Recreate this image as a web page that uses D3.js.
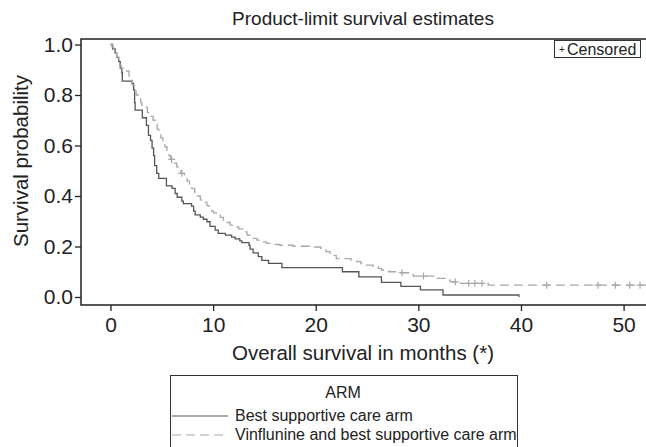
<!DOCTYPE html>
<html>
<head>
<meta charset="utf-8">
<script src="https://cdn.jsdelivr.net/npm/d3@7"></script>
<style>
  body { margin: 0; background: #fff; }
  text { font-family: "Liberation Sans", Arial, sans-serif; fill: #222; }
</style>
</head>
<body>
<script>
// Best supportive care arm: [month, survival after event]
const bscEvents = [
  [0.2, 0.983], [0.45, 0.966], [0.6, 0.949], [0.8, 0.932], [0.95, 0.906], [1.1, 0.889],
  [1.15, 0.855], [2.1, 0.846], [2.25, 0.82], [2.35, 0.77], [2.4, 0.74], [3.1, 0.71],
  [3.5, 0.68], [3.7, 0.64], [3.9, 0.62], [4.05, 0.59], [4.2, 0.56], [4.3, 0.52],
  [4.5, 0.49], [4.7, 0.47], [5.45, 0.44], [6.0, 0.43], [6.3, 0.41], [6.5, 0.395],
  [6.95, 0.38], [7.1, 0.37], [7.9, 0.36], [8.1, 0.34], [8.25, 0.325], [8.75, 0.316],
  [9.05, 0.308], [9.4, 0.298], [9.7, 0.28], [10.2, 0.265], [10.5, 0.252], [11.2, 0.245],
  [11.8, 0.237], [12.15, 0.23], [12.6, 0.222], [12.8, 0.215], [13.5, 0.205], [13.6, 0.19],
  [13.9, 0.175], [14.4, 0.16], [14.75, 0.145], [15.4, 0.133], [16.7, 0.116], [22.6, 0.1],
  [24.2, 0.08], [26.4, 0.058], [28.3, 0.042], [30.2, 0.028], [32.4, 0.008], [39.8, 0]
];

// Vinflunine and best supportive care arm
const vflEvents = [
  [0.15, 0.99], [0.3, 0.98], [0.45, 0.965], [0.6, 0.95], [0.75, 0.93], [0.9, 0.915],
  [1.05, 0.905], [1.4, 0.895], [1.8, 0.875], [1.9, 0.858], [2.1, 0.84], [2.3, 0.815],
  [2.5, 0.8], [2.8, 0.79], [2.95, 0.77], [3.05, 0.752], [3.6, 0.73], [3.9, 0.715],
  [4.15, 0.7], [4.35, 0.685], [4.55, 0.665], [4.7, 0.648], [4.9, 0.63], [5.1, 0.61],
  [5.3, 0.595], [5.5, 0.575], [5.7, 0.56], [5.85, 0.545], [6.2, 0.53], [6.45, 0.515],
  [6.7, 0.5], [6.85, 0.49], [7.2, 0.475], [7.45, 0.46], [7.7, 0.445], [7.9, 0.43],
  [8.2, 0.415], [8.45, 0.4], [8.75, 0.385], [9.05, 0.375], [9.4, 0.362], [9.6, 0.35],
  [9.85, 0.34], [10.05, 0.333], [10.3, 0.325], [10.7, 0.315], [11.0, 0.305], [11.35, 0.295],
  [11.65, 0.285], [12.1, 0.278], [12.5, 0.27], [12.95, 0.258], [13.3, 0.245], [13.6, 0.232],
  [14.25, 0.225], [14.6, 0.218], [15.2, 0.212], [15.6, 0.208], [16.5, 0.205], [17.8, 0.201],
  [19.4, 0.198], [20.5, 0.193], [21.0, 0.18], [21.4, 0.172], [21.7, 0.165], [22.0, 0.152],
  [23.4, 0.147], [24.0, 0.14], [24.4, 0.132], [24.7, 0.126], [25.6, 0.12], [26.1, 0.113],
  [26.4, 0.107], [27.1, 0.1], [28.0, 0.096], [29.5, 0.083], [31.5, 0.074], [32.8, 0.067],
  [33.1, 0.06], [34.1, 0.054], [36.8, 0.047]
];
const vflLastTime = 52.5;
const vflCensored = [5.96, 6.94, 28.4, 30.5, 33.6, 34.9, 35.5, 36.2, 42.5, 47.5, 49.2, 50.6, 51.6];

const xTicks = [0, 10, 20, 30, 40, 50];
const yTicks = [0, 0.2, 0.4, 0.6, 0.8, 1.0];
const armNames = ["Best supportive care arm", "Vinflunine and best supportive care arm"];

const width = 646, height = 447;
const frame = {left: 81, top: 39, bottom: 305};

const x = d3.scaleLinear().domain([0, 50]).range([110.5, 623.6]);
const y = d3.scaleLinear().domain([0, 1]).range([297, 44.5]);

const svg = d3.select("body").append("svg")
  .attr("width", width)
  .attr("height", height);

svg.append("defs").append("clipPath")
  .attr("id", "plot")
  .append("rect")
  .attr("x", frame.left)
  .attr("y", frame.top)
  .attr("width", width - frame.left)
  .attr("height", frame.bottom - frame.top);

// frame
svg.append("path")
  .attr("d", `M${width + 5},${frame.top}H${frame.left}V${frame.bottom}H${width + 5}`)
  .attr("fill", "none")
  .attr("stroke", "#222")
  .attr("stroke-width", 1.5);

const xAxis = svg.append("g")
  .attr("transform", "translate(0," + frame.bottom + ")")
  .call(d3.axisBottom(x).tickValues(xTicks).tickSize(6).tickPadding(6));
xAxis.select(".domain").remove();

const yAxis = svg.append("g")
  .attr("transform", "translate(" + frame.left + ",0)")
  .call(d3.axisLeft(y).tickValues(yTicks).tickSize(6).tickPadding(2).tickFormat(d3.format(".1f")));
yAxis.select(".domain").remove();

svg.selectAll(".tick line").attr("stroke", "#222").attr("stroke-width", 1.3);
svg.selectAll(".tick text").style("font-size", "21px").style("font-family", "Liberation Sans, Arial, sans-serif").attr("fill", "#222");

// survival curves
const stepLine = d3.line()
  .x(d => x(d[0]))
  .y(d => y(d[1]))
  .curve(d3.curveStepAfter);

const plot = svg.append("g").attr("clip-path", "url(#plot)");

const bscPoints = [[0, 1]].concat(bscEvents);
plot.append("path")
  .attr("d", stepLine(bscPoints))
  .attr("fill", "none")
  .attr("stroke", "#555")
  .attr("stroke-width", 1.3);

const vflPoints = [[0, 1]].concat(vflEvents, [[vflLastTime, vflEvents[vflEvents.length - 1][1]]]);
plot.append("path")
  .attr("d", stepLine(vflPoints))
  .attr("fill", "none")
  .attr("stroke", "#a8a8a8")
  .attr("stroke-width", 1.3)
  .attr("stroke-dasharray", "9,5");

// survival at time t (step function)
const survAt = (events, t) => {
  let s = 1;
  events.forEach(e => { if (e[0] <= t) s = e[1]; });
  return s;
};

plot.selectAll(".cens")
  .data(vflCensored)
  .enter()
  .append("path")
  .attr("class", "cens")
  .attr("d", d => {
    const cx = x(d), cy = y(survAt(vflEvents, d));
    return `M${cx - 3.5},${cy}H${cx + 3.5}M${cx},${cy - 3.5}V${cy + 3.5}`;
  })
  .attr("stroke", "#a8a8a8")
  .attr("stroke-width", 1.2);

// censored key
svg.append("rect")
  .attr("x", 554.5)
  .attr("y", 40.5)
  .attr("width", 86)
  .attr("height", 17)
  .attr("fill", "#fff")
  .attr("stroke", "#333")
  .attr("stroke-width", 1);

svg.append("text")
  .attr("x", 562)
  .attr("y", 53)
  .attr("text-anchor", "middle")
  .style("font-size", "10px")
  .text("+");

svg.append("text")
  .attr("x", 567)
  .attr("y", 55)
  .style("font-size", "16px")
  .text("Censored");

// titles
svg.append("text")
  .attr("x", 363)
  .attr("y", 25)
  .attr("text-anchor", "middle")
  .style("font-size", "19px")
  .text("Product-limit survival estimates");

svg.append("text")
  .attr("x", 363)
  .attr("y", 360)
  .attr("text-anchor", "middle")
  .style("font-size", "20.5px")
  .text("Overall survival in months (*)");

svg.append("text")
  .attr("transform", "translate(28,161) rotate(-90)")
  .attr("text-anchor", "middle")
  .style("font-size", "20.5px")
  .text("Survival probability");

// legend
svg.append("rect")
  .attr("x", 170.5)
  .attr("y", 375.5)
  .attr("width", 347)
  .attr("height", 90)
  .attr("fill", "#fff")
  .attr("stroke", "#333")
  .attr("stroke-width", 1);

svg.append("text")
  .attr("x", 343)
  .attr("y", 398)
  .attr("text-anchor", "middle")
  .style("font-size", "16px")
  .text("ARM");

const legendY = [421, 440];
const legendStroke = ["#555", "#a8a8a8"];
const legendDash = [null, "9,5"];

armNames.forEach((name, i) => {
  svg.append("line")
    .attr("x1", 172)
    .attr("x2", 228)
    .attr("y1", legendY[i] - 5)
    .attr("y2", legendY[i] - 5)
    .attr("stroke", legendStroke[i])
    .attr("stroke-width", 1.2)
    .attr("stroke-dasharray", legendDash[i]);

  svg.append("text")
    .attr("x", 235)
    .attr("y", legendY[i])
    .style("font-size", "16px")
    .text(name);
});
</script>
</body>
</html>
